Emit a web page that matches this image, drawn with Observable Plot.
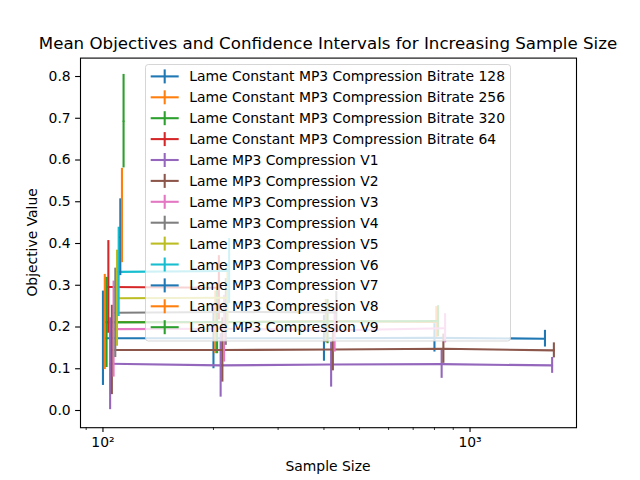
<!DOCTYPE html>
<html>
<head>
<meta charset="utf-8">
<script src="https://cdn.jsdelivr.net/npm/d3@7"></script>
<script src="https://cdn.jsdelivr.net/npm/@observablehq/plot@0.6"></script>
<style>
  body { margin: 0; background: #fff; }
  svg { font-family: "DejaVu Sans", sans-serif; }
</style>
</head>
<body>
<div id="chart"></div>
<script>
// Encoder configurations, in plotting order
const seriesNames = [
  "Lame Constant MP3 Compression Bitrate 128",
  "Lame Constant MP3 Compression Bitrate 256",
  "Lame Constant MP3 Compression Bitrate 320",
  "Lame Constant MP3 Compression Bitrate 64",
  "Lame MP3 Compression V1",
  "Lame MP3 Compression V2",
  "Lame MP3 Compression V3",
  "Lame MP3 Compression V4",
  "Lame MP3 Compression V5",
  "Lame MP3 Compression V6",
  "Lame MP3 Compression V7",
  "Lame MP3 Compression V8",
  "Lame MP3 Compression V9"
];

const seriesColors = [
  "#1f77b4", "#ff7f0e", "#2ca02c", "#d62728", "#9467bd", "#8c564b", "#e377c2",
  "#7f7f7f", "#bcbd22", "#17becf", "#1f77b4", "#ff7f0e", "#2ca02c"
];

// Sample sizes each configuration was evaluated at
const sampleSizes = [
  [100, 200, 400, 800, 1600],
  [100, 200, 400, 800],
  [100, 200, 400, 800],
  [100, 200],
  [100, 200, 400, 800, 1600],
  [100, 200, 400, 800, 1600],
  [100, 200, 400, 800],
  [100, 200, 400],
  [100, 200],
  [100, 200],
  [100],
  [100],
  [100]
];

// Mean objective value at each sample size
const meanValues = [
  [0.173, 0.173, 0.173, 0.174, 0.172],
  [0.212, 0.211, 0.214, 0.212],
  [0.211, 0.212, 0.213, 0.214],
  [0.296, 0.294],
  [0.112, 0.108, 0.110, 0.111, 0.108],
  [0.145, 0.145, 0.146, 0.148, 0.144],
  [0.195, 0.196, 0.192, 0.197],
  [0.234, 0.236, 0.235],
  [0.269, 0.270],
  [0.332, 0.334],
  [0.415],
  [0.467],
  [0.693]
];

// Half-width of the confidence interval at each sample size
const ciHalfWidths = [
  [0.113, 0.073, 0.055, 0.034, 0.020],
  [0.114, 0.075, 0.052, 0.037],
  [0.108, 0.076, 0.053, 0.037],
  [0.111, 0.077],
  [0.110, 0.076, 0.054, 0.034, 0.019],
  [0.107, 0.077, 0.051, 0.035, 0.018],
  [0.115, 0.080, 0.052, 0.035],
  [0.107, 0.080, 0.050],
  [0.115, 0.080],
  [0.107, 0.078],
  [0.092],
  [0.113],
  [0.112]
];

const yTicks = [0, 0.1, 0.2, 0.3, 0.4, 0.5, 0.6, 0.7, 0.8];
const xMajorTicks = [100, 1000];
const xMajorLabels = ["10\u00b2", "10\u00b3"];
const xMinorTicks = [90, 200, 300, 400, 500, 600, 700, 800, 900];

// Points sharing a sample size are nudged apart so their bars do not overlap.
const dodgeStep = 0.0115;

const W = 640, H = 480;
const margin = {top: 57.6, right: 64, bottom: 52.8, left: 80};
const lw = 2.08;

const seriesRows = seriesNames.map((name, i) =>
  sampleSizes[i].map((n, j) => ({
    series: name,
    x: n * (1 + dodgeStep * i),
    mean: meanValues[i][j],
    lo: meanValues[i][j] - ciHalfWidths[i][j],
    hi: meanValues[i][j] + ciHalfWidths[i][j]
  }))
);

const marks = [];
seriesRows.forEach((rows, i) => {
  marks.push(Plot.ruleX(rows, {x: "x", y1: "lo", y2: "hi", stroke: seriesColors[i], strokeWidth: lw}));
  marks.push(Plot.line(rows, {x: "x", y: "mean", stroke: seriesColors[i], strokeWidth: lw}));
});

const chart = Plot.plot({
  width: W,
  height: H,
  marginTop: margin.top,
  marginRight: margin.right,
  marginBottom: margin.bottom,
  marginLeft: margin.left,
  style: {fontFamily: "DejaVu Sans", fontSize: "13.9px", color: "#000", background: "#fff"},
  x: {type: "log", domain: [86.86, 1950]},
  y: {domain: [-0.0412, 0.8441]},
  marks: [
    ...marks,
    Plot.frame({stroke: "#000", strokeWidth: 1.1}),
    Plot.axisY({ticks: yTicks, tickFormat: d3.format(".1f"), tickSize: 4.9, tickPadding: 4.9, strokeWidth: 1.1, label: null}),
    Plot.axisX({ticks: xMinorTicks, tickFormat: () => "", tickSize: 2.8, strokeWidth: 0.8, label: null}),
    Plot.axisX({ticks: xMajorTicks, tickFormat: d => xMajorLabels[xMajorTicks.indexOf(d)], tickSize: 4.9, tickPadding: 4.9, strokeWidth: 1.1, label: null})
  ]
});

document.getElementById("chart").appendChild(chart);

const svg = d3.select(chart);
const plotCenterX = margin.left + (W - margin.left - margin.right) / 2;
const plotCenterY = margin.top + (H - margin.top - margin.bottom) / 2;

// Title and axis labels
svg.append("text")
  .attr("x", plotCenterX).attr("y", 49.3)
  .attr("text-anchor", "middle")
  .style("font-size", "16.67px").attr("fill", "#000")
  .text("Mean Objectives and Confidence Intervals for Increasing Sample Size");

svg.append("text")
  .attr("x", plotCenterX).attr("y", 471)
  .attr("text-anchor", "middle")
  .style("font-size", "13.9px").attr("fill", "#000")
  .text("Sample Size");

svg.append("text")
  .attr("transform", `translate(37,${plotCenterY}) rotate(-90)`)
  .attr("text-anchor", "middle")
  .style("font-size", "13.9px").attr("fill", "#000")
  .text("Objective Value");

// Legend box drawn over the data, semi-transparent as in the default style
const legend = svg.append("g").attr("text-anchor", "start");
legend.append("rect")
  .attr("x", 145.5).attr("y", 64.5)
  .attr("width", 365).attr("height", 276.5)
  .attr("rx", 2.8)
  .attr("fill", "#fff").attr("fill-opacity", 0.8)
  .attr("stroke", "#ccc").attr("stroke-opacity", 0.8).attr("stroke-width", 1);

seriesNames.forEach((name, i) => {
  const cy = 76.4 + 20.9 * i;
  const g = legend.append("g");
  g.append("line")
    .attr("x1", 150.7).attr("x2", 178.7).attr("y1", cy).attr("y2", cy)
    .attr("stroke", seriesColors[i]).attr("stroke-width", lw);
  g.append("line")
    .attr("x1", 164.7).attr("x2", 164.7).attr("y1", cy - 7).attr("y2", cy + 7)
    .attr("stroke", seriesColors[i]).attr("stroke-width", lw);
  g.append("text")
    .attr("x", 189.3).attr("y", cy + 5)
    .attr("text-anchor", "start")
    .style("font-size", "13.9px").attr("fill", "#000")
    .text(name);
});
</script>
</body>
</html>
